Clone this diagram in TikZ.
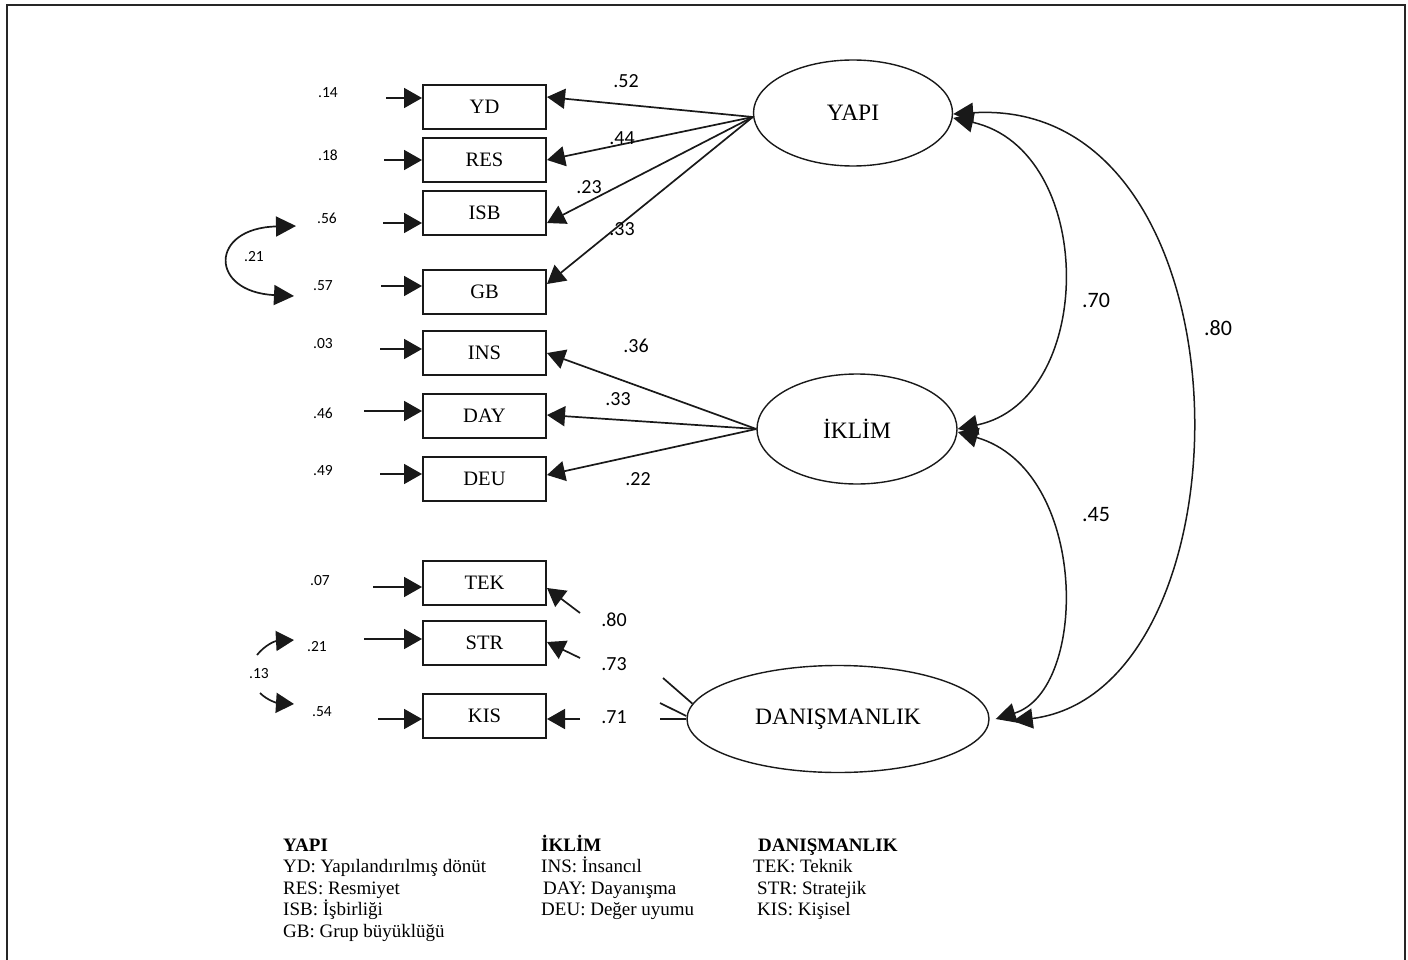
\documentclass[tikz,border=0pt]{standalone}
\usepackage{fontspec}
\setmainfont{Liberation Serif}
\newfontfamily\numf{Carlito}
\usetikzlibrary{arrows.meta,shapes.geometric}
\begin{document}
\begin{tikzpicture}[x=1pt,y=-1pt,
 box/.style={draw=black!90,line width=2pt,minimum width=123pt,minimum height=44pt,inner sep=0pt,font=\fontsize{20.5}{24}\selectfont},
 lat/.style={draw=black!90,ellipse,line width=1.4pt,inner sep=0pt,font=\fontsize{23.5}{28}\selectfont},
 arr/.style={draw=black!90,line width=1.7pt,-{Triangle[length=18pt,width=20pt]}},
 dbl/.style={draw=black!90,line width=1.5pt,{Triangle[length=20pt,width=20pt]}-{Triangle[length=20pt,width=20pt]}},
 sarr/.style={draw=black!90,line width=1.7pt,-{Triangle[length=18pt,width=20pt]}},
 ln/.style={draw=black!90,line width=1.7pt},
 sm/.style={font=\numf\fontsize{15.5}{18}\selectfont,inner sep=0pt},
 md/.style={font=\numf\fontsize{20}{24}\selectfont,inner sep=0pt},
 lg/.style={font=\numf\fontsize{22}{26}\selectfont,inner sep=0pt},
 leg/.style={anchor=base west,inner sep=0pt,font=\fontsize{19}{22}\selectfont},
 legh/.style={anchor=base west,inner sep=0pt,font=\fontsize{19}{22}\selectfont\bfseries}]
\useasboundingbox (0,0) rectangle (1408,960);
% frame
\draw[line width=1.6pt,black!85] (7,960) -- (7,5) -- (1405,5) -- (1405,960);

% observed variables
\node[box] (yd)  at (484.5,107) {YD};
\node[box] (res) at (484.5,160) {RES};
\node[box] (isb) at (484.5,213) {ISB};
\node[box] (gb)  at (484.5,292) {GB};
\node[box] (ins) at (484.5,353) {INS};
\node[box] (day) at (484.5,416) {DAY};
\node[box] (deu) at (484.5,479) {DEU};
\node[box] (tek) at (484.5,583) {TEK};
\node[box] (str) at (484.5,643) {STR};
\node[box] (kis) at (484.5,716) {KIS};

% latent variables
\node[lat,minimum width=199pt,minimum height=106pt] (yapi) at (853,113) {YAPI};
\node[lat,minimum width=200pt,minimum height=110pt] (iklim) at (857,429) {İKLİM};
\node[lat,minimum width=302pt,minimum height=107pt] (dan) at (838,719) {DANIŞMANLIK};

% error labels
\node[sm] (e1) at (328,93) {.14};
\node[sm] (e2) at (328,155) {.18};
\node[sm] (e3) at (327,218) {.56};
\node[sm] (e4) at (323,286) {.57};
\node[sm] (e5) at (323,344) {.03};
\node[sm] (e6) at (323,413) {.46};
\node[sm] (e7) at (323,471) {.49};
\node[sm] (e8) at (320,581) {.07};
\node[sm] (e9) at (317,647) {.21};
\node[sm] (e10) at (322,712) {.54};
\node[sm] (c1) at (254,257) {.21};
\node[sm] (c2) at (259,674) {.13};

% error arrows
\coordinate (s1) at (386,98);
\coordinate (s2) at (384,160);
\coordinate (s3) at (383,223);
\coordinate (s4) at (381,286);
\coordinate (s5) at (380,349);
\coordinate (s6) at (364,411);
\coordinate (s7) at (380,474);
\coordinate (s8) at (373,587);
\coordinate (s9) at (364,639);
\coordinate (s10) at (378,719);
\draw[arr] (s1) -- (yd.west |- s1);
\draw[arr] (s2) -- (res.west |- s2);
\draw[arr] (s3) -- (isb.west |- s3);
\draw[arr] (s4) -- (gb.west |- s4);
\draw[arr] (s5) -- (ins.west |- s5);
\draw[arr] (s6) -- (day.west |- s6);
\draw[arr] (s7) -- (deu.west |- s7);
\draw[arr] (s8) -- (tek.west |- s8);
\draw[arr] (s9) -- (str.west |- s9);
\draw[arr] (s10) -- (kis.west |- s10);

% error covariances
\coordinate (u1) at (296,226);
\coordinate (u2) at (294,296);
\draw[dbl,line width=1.7pt] (u1) .. controls (209,228) and (209,292) .. (u2);
\coordinate (v1) at (257,655);
\coordinate (v2) at (294,640);
\coordinate (v3) at (260,693);
\coordinate (v4) at (294,704);
\draw[sarr] (v1) .. controls (265,645) and (275,641) .. (v2);
\draw[sarr] (v3) .. controls (268,701) and (278,703) .. (v4);

% YAPI loadings
\coordinate (yL) at ([yshift=-4pt]yapi.west);
\draw[arr] (yL) -- ([yshift=10pt]yd.east);
\draw[arr] (yL) -- (res.east);
\draw[arr] (yL) -- ([yshift=-10pt]isb.east);
\draw[arr] (yL) -- ([yshift=8pt]gb.east);
\node[md] (l1) at (626,81) {.52};
\node[md] (l2) at (622,138) {.44};
\node[md] (l3) at (589,187) {.23};
\node[md] (l4) at (622,229) {.33};

% IKLIM loadings
\draw[arr] (iklim.west) -- (ins.east);
\draw[arr] (iklim.west) -- ([yshift=1pt]day.east);
\draw[arr] (iklim.west) -- ([yshift=4pt]deu.east);
\node[md] (l5) at (636,346) {.36};
\node[md] (l6) at (618,399) {.33};
\node[md] (l7) at (638,479) {.22};

% DANISMANLIK loadings (broken)
\coordinate (d1) at (580,613);
\coordinate (d2) at (580,658);
\coordinate (d3) at (580,719);
\draw[arr] (d1) -- ([yshift=-5pt]tek.east);
\draw[arr] (d2) -- ([yshift=1pt]str.east);
\draw[arr] (d3) -- ([yshift=-3pt]kis.east);
\coordinate (f1) at (663,678);
\coordinate (f2) at (660,703);
\coordinate (f3) at (660,719);
\draw[ln] (f1) -- (dan.174);
\draw[ln] (f2) -- ([yshift=3pt]dan.west);
\draw[ln] (f3) -- (dan.west);
\node[md] (l8) at (614,620) {.80};
\node[md] (l9) at (614,664) {.73};
\node[md] (l10) at (614,717) {.71};

% latent covariances
\draw[dbl] ([yshift=-5pt]yapi.east) .. controls (1097,150) and (1097,400) .. (iklim.east);
\draw[dbl] ([yshift=-3pt]iklim.east) .. controls (1089,470) and (1089,690) .. ([xshift=6pt]dan.east);
\draw[dbl] ([yshift=-1pt]yapi.east) .. controls (1258,95) and (1258,690) .. ([xshift=23pt,yshift=-2pt]dan.east);
\node[lg] (k1) at (1096,300) {.70};
\node[lg] (k2) at (1096,515) {.45};
\node[lg] (k3) at (1218,328) {.80};

% legend
\node[legh] (h1) at (283,851) {YAPI};
\node[leg] (t1) at (283,872) {YD: Yapılandırılmış dönüt};
\node[leg] (t2) at (283,894) {RES: Resmiyet};
\node[leg] (t3) at (283,915) {ISB: İşbirliği};
\node[leg] (t4) at (283,937) {GB: Grup büyüklüğü};
\node[legh] (h2) at (541,851) {İKLİM};
\node[leg] (t5) at (541,872) {INS: İnsancıl};
\node[leg] (t6) at (543,894) {DAY: Dayanışma};
\node[leg] (t7) at (541,915) {DEU: Değer uyumu};
\node[legh] (h3) at (758,851) {DANIŞMANLIK};
\node[leg] (t8) at (753,872) {TEK: Teknik};
\node[leg] (t9) at (757,894) {STR: Stratejik};
\node[leg] (t10) at (757,915) {KIS: Kişisel};
\end{tikzpicture}
\end{document}
